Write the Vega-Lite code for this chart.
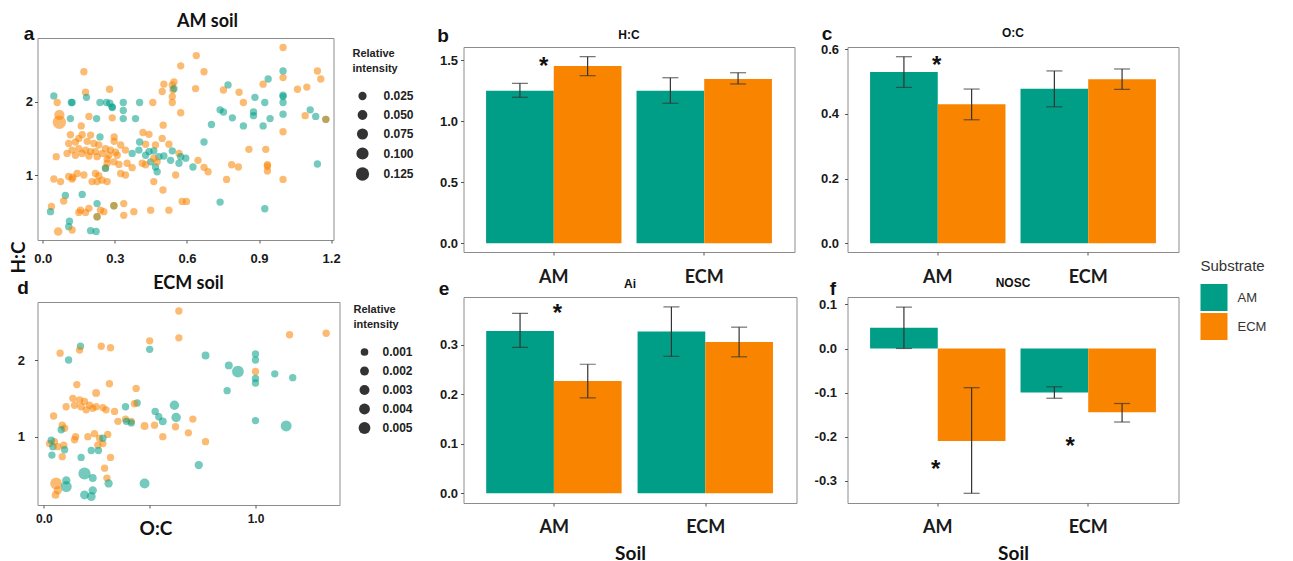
{
"$schema": "https://vega.github.io/schema/vega-lite/v6.json",
"padding": {"left": 8.5, "top": 8, "right": 5, "bottom": 0},
"datasets": {
"scatA": [
{"OC":0.639,"HC":2.63,"Substrate":"ECM","RI":0.012},{"OC":0.671,"HC":2.41,"Substrate":"ECM","RI":0.012},{"OC":1.0,"HC":2.74,"Substrate":"ECM","RI":0.012},{"OC":1.0,"HC":2.42,"Substrate":"AM","RI":0.012},{"OC":1.0,"HC":2.33,"Substrate":"ECM","RI":0.012},{"OC":1.143,"HC":2.42,"Substrate":"ECM","RI":0.012},{"OC":1.157,"HC":2.31,"Substrate":"ECM","RI":0.012},{"OC":0.636,"HC":2.18,"Substrate":"ECM","RI":0.012},{"OC":0.771,"HC":2.23,"Substrate":"AM","RI":0.012},{"OC":0.752,"HC":2.16,"Substrate":"ECM","RI":0.012},{"OC":0.817,"HC":2.13,"Substrate":"ECM","RI":0.012},{"OC":0.835,"HC":1.99,"Substrate":"ECM","RI":0.012},{"OC":0.883,"HC":2.06,"Substrate":"AM","RI":0.012},{"OC":0.938,"HC":2.31,"Substrate":"AM","RI":0.012},{"OC":0.917,"HC":2.24,"Substrate":"ECM","RI":0.012},{"OC":0.924,"HC":1.99,"Substrate":"AM","RI":0.012},{"OC":1.0,"HC":2.09,"Substrate":"AM","RI":0.012},{"OC":1.0,"HC":2.07,"Substrate":"AM","RI":0.012},{"OC":1.0,"HC":1.99,"Substrate":"AM","RI":0.012},{"OC":1.06,"HC":2.17,"Substrate":"ECM","RI":0.012},{"OC":1.099,"HC":2.2,"Substrate":"ECM","RI":0.012},{"OC":0.738,"HC":1.89,"Substrate":"AM","RI":0.012},{"OC":0.752,"HC":1.86,"Substrate":"AM","RI":0.012},{"OC":0.789,"HC":1.78,"Substrate":"AM","RI":0.012},{"OC":0.877,"HC":1.86,"Substrate":"AM","RI":0.012},{"OC":0.877,"HC":1.81,"Substrate":"AM","RI":0.012},{"OC":0.946,"HC":1.77,"Substrate":"AM","RI":0.012},{"OC":0.835,"HC":1.67,"Substrate":"AM","RI":0.012},{"OC":0.917,"HC":1.67,"Substrate":"AM","RI":0.012},{"OC":1.0,"HC":1.83,"Substrate":"AM","RI":0.012},{"OC":1.0,"HC":1.59,"Substrate":"ECM","RI":0.012},{"OC":1.092,"HC":1.81,"Substrate":"ECM","RI":0.012},{"OC":1.113,"HC":1.89,"Substrate":"AM","RI":0.012},{"OC":1.136,"HC":1.8,"Substrate":"AM","RI":0.012},{"OC":1.178,"HC":1.76,"Substrate":"AM","RI":0.012},{"OC":1.178,"HC":1.76,"Substrate":"ECM","RI":0.012},{"OC":0.702,"HC":1.69,"Substrate":"AM","RI":0.012},{"OC":0.671,"HC":1.45,"Substrate":"AM","RI":0.012},{"OC":0.858,"HC":1.35,"Substrate":"ECM","RI":0.012},{"OC":0.928,"HC":1.35,"Substrate":"ECM","RI":0.012},{"OC":0.646,"HC":1.2,"Substrate":"ECM","RI":0.012},{"OC":0.671,"HC":1.105,"Substrate":"ECM","RI":0.012},{"OC":0.688,"HC":1.045,"Substrate":"ECM","RI":0.012},{"OC":0.625,"HC":1.11,"Substrate":"AM","RI":0.012},{"OC":0.786,"HC":1.14,"Substrate":"ECM","RI":0.012},{"OC":0.814,"HC":1.11,"Substrate":"ECM","RI":0.012},{"OC":0.935,"HC":1.14,"Substrate":"ECM","RI":0.012},{"OC":0.935,"HC":1.12,"Substrate":"ECM","RI":0.012},{"OC":0.935,"HC":1.055,"Substrate":"ECM","RI":0.012},{"OC":1.143,"HC":1.15,"Substrate":"AM","RI":0.012},{"OC":0.765,"HC":0.94,"Substrate":"ECM","RI":0.012},{"OC":1.0,"HC":0.94,"Substrate":"ECM","RI":0.012},{"OC":0.738,"HC":0.63,"Substrate":"AM","RI":0.012},{"OC":0.924,"HC":0.54,"Substrate":"AM","RI":0.012},{"OC":0.598,"HC":0.64,"Substrate":"ECM","RI":0.012},{"OC":0.595,"HC":1.23,"Substrate":"AM","RI":0.012},
{"OC":0.171,"HC":2.41,"Substrate":"ECM","RI":0.012},{"OC":0.574,"HC":2.49,"Substrate":"ECM","RI":0.012},{"OC":0.178,"HC":2.13,"Substrate":"ECM","RI":0.012},{"OC":0.278,"HC":2.17,"Substrate":"ECM","RI":0.012},{"OC":0.046,"HC":2.08,"Substrate":"AM","RI":0.012},{"OC":0.06,"HC":1.99,"Substrate":"ECM","RI":0.012},{"OC":0.119,"HC":1.99,"Substrate":"AM","RI":0.012},{"OC":0.122,"HC":1.99,"Substrate":"AM","RI":0.012},{"OC":0.182,"HC":2.06,"Substrate":"AM","RI":0.012},{"OC":0.238,"HC":1.99,"Substrate":"AM","RI":0.012},{"OC":0.265,"HC":1.99,"Substrate":"AM","RI":0.012},{"OC":0.279,"HC":1.98,"Substrate":"AM","RI":0.012},{"OC":0.289,"HC":1.92,"Substrate":"AM","RI":0.012},{"OC":0.289,"HC":1.93,"Substrate":"AM","RI":0.012},{"OC":0.335,"HC":1.99,"Substrate":"AM","RI":0.012},{"OC":0.335,"HC":1.88,"Substrate":"AM","RI":0.012},{"OC":0.335,"HC":1.77,"Substrate":"AM","RI":0.012},{"OC":0.403,"HC":1.99,"Substrate":"AM","RI":0.012},{"OC":0.458,"HC":1.99,"Substrate":"ECM","RI":0.012},{"OC":0.504,"HC":2.24,"Substrate":"ECM","RI":0.012},{"OC":0.539,"HC":2.23,"Substrate":"ECM","RI":0.012},{"OC":0.546,"HC":2.27,"Substrate":"ECM","RI":0.012},{"OC":0.497,"HC":2.14,"Substrate":"ECM","RI":0.012},{"OC":0.542,"HC":2.16,"Substrate":"ECM","RI":0.012},{"OC":0.546,"HC":2.18,"Substrate":"AM","RI":0.012},{"OC":0.539,"HC":2.07,"Substrate":"ECM","RI":0.012},{"OC":0.539,"HC":1.99,"Substrate":"ECM","RI":0.012},{"OC":0.574,"HC":1.85,"Substrate":"ECM","RI":0.012},{"OC":0.069,"HC":1.82,"Substrate":"ECM","RI":0.06},{"OC":0.069,"HC":1.72,"Substrate":"ECM","RI":0.125},{"OC":0.115,"HC":1.77,"Substrate":"AM","RI":0.012},{"OC":0.192,"HC":1.8,"Substrate":"ECM","RI":0.012},{"OC":0.224,"HC":1.77,"Substrate":"AM","RI":0.012},{"OC":0.289,"HC":1.78,"Substrate":"ECM","RI":0.012},{"OC":0.386,"HC":1.77,"Substrate":"AM","RI":0.012},{"OC":0.16,"HC":1.67,"Substrate":"ECM","RI":0.012},{"OC":0.501,"HC":1.68,"Substrate":"ECM","RI":0.012},{"OC":0.297,"HC":1.52,"Substrate":"ECM","RI":0.012},{"OC":0.297,"HC":1.46,"Substrate":"ECM","RI":0.012},{"OC":0.238,"HC":1.52,"Substrate":"AM","RI":0.012},{"OC":0.417,"HC":1.58,"Substrate":"ECM","RI":0.012},{"OC":0.442,"HC":1.555,"Substrate":"ECM","RI":0.012},{"OC":0.497,"HC":1.5,"Substrate":"ECM","RI":0.012},{"OC":0.469,"HC":1.41,"Substrate":"ECM","RI":0.012},{"OC":0.428,"HC":1.42,"Substrate":"ECM","RI":0.012},{"OC":0.403,"HC":1.45,"Substrate":"AM","RI":0.012},
{"OC":0.108,"HC":1.43,"Substrate":"ECM","RI":0.012},{"OC":0.136,"HC":1.45,"Substrate":"ECM","RI":0.012},{"OC":0.164,"HC":1.55,"Substrate":"ECM","RI":0.012},{"OC":0.185,"HC":1.46,"Substrate":"ECM","RI":0.012},{"OC":0.2125,"HC":1.43,"Substrate":"ECM","RI":0.012},{"OC":0.233,"HC":1.41,"Substrate":"ECM","RI":0.012},{"OC":0.261,"HC":1.36,"Substrate":"ECM","RI":0.012},{"OC":0.282,"HC":1.34,"Substrate":"ECM","RI":0.012},{"OC":0.303,"HC":1.31,"Substrate":"ECM","RI":0.012},{"OC":0.122,"HC":1.34,"Substrate":"ECM","RI":0.012},{"OC":0.15,"HC":1.36,"Substrate":"ECM","RI":0.012},{"OC":0.178,"HC":1.34,"Substrate":"ECM","RI":0.012},{"OC":0.199,"HC":1.32,"Substrate":"ECM","RI":0.012},{"OC":0.219,"HC":1.32,"Substrate":"ECM","RI":0.012},{"OC":0.247,"HC":1.295,"Substrate":"ECM","RI":0.012},{"OC":0.275,"HC":1.27,"Substrate":"ECM","RI":0.012},{"OC":0.101,"HC":1.295,"Substrate":"ECM","RI":0.012},{"OC":0.136,"HC":1.27,"Substrate":"ECM","RI":0.012},{"OC":0.164,"HC":1.295,"Substrate":"ECM","RI":0.012},{"OC":0.192,"HC":1.26,"Substrate":"ECM","RI":0.012},{"OC":0.226,"HC":1.25,"Substrate":"ECM","RI":0.012},{"OC":0.268,"HC":1.22,"Substrate":"ECM","RI":0.012},{"OC":0.296,"HC":1.18,"Substrate":"ECM","RI":0.012},{"OC":0.115,"HC":1.55,"Substrate":"ECM","RI":0.012},{"OC":0.15,"HC":1.5,"Substrate":"ECM","RI":0.012},{"OC":0.199,"HC":1.545,"Substrate":"ECM","RI":0.012},{"OC":0.056,"HC":1.25,"Substrate":"ECM","RI":0.012},{"OC":0.31,"HC":1.27,"Substrate":"ECM","RI":0.012},{"OC":0.344,"HC":1.34,"Substrate":"ECM","RI":0.012},{"OC":0.324,"HC":1.41,"Substrate":"ECM","RI":0.012},
{"OC":0.268,"HC":1.16,"Substrate":"ECM","RI":0.012},{"OC":0.261,"HC":1.1,"Substrate":"ECM","RI":0.012},{"OC":0.317,"HC":1.145,"Substrate":"ECM","RI":0.012},{"OC":0.351,"HC":1.16,"Substrate":"ECM","RI":0.012},{"OC":0.372,"HC":1.1,"Substrate":"ECM","RI":0.012},{"OC":0.324,"HC":1.02,"Substrate":"ECM","RI":0.012},{"OC":0.344,"HC":1.0,"Substrate":"ECM","RI":0.012},{"OC":0.261,"HC":1.09,"Substrate":"AM","RI":0.012},{"OC":0.046,"HC":0.945,"Substrate":"ECM","RI":0.012},{"OC":0.074,"HC":0.91,"Substrate":"ECM","RI":0.012},{"OC":0.108,"HC":0.98,"Substrate":"ECM","RI":0.012},{"OC":0.143,"HC":1.02,"Substrate":"ECM","RI":0.012},{"OC":0.171,"HC":1.0,"Substrate":"ECM","RI":0.012},{"OC":0.122,"HC":0.945,"Substrate":"ECM","RI":0.012},{"OC":0.125,"HC":0.97,"Substrate":"ECM","RI":0.012},{"OC":0.219,"HC":1.02,"Substrate":"ECM","RI":0.012},{"OC":0.233,"HC":0.99,"Substrate":"ECM","RI":0.012},{"OC":0.247,"HC":0.93,"Substrate":"ECM","RI":0.012},{"OC":0.268,"HC":0.91,"Substrate":"ECM","RI":0.012},{"OC":0.205,"HC":0.91,"Substrate":"ECM","RI":0.012},{"OC":0.226,"HC":0.91,"Substrate":"ECM","RI":0.012},{"OC":0.094,"HC":0.72,"Substrate":"AM","RI":0.012},{"OC":0.087,"HC":0.645,"Substrate":"ECM","RI":0.012},{"OC":0.164,"HC":0.735,"Substrate":"AM","RI":0.012},{"OC":0.036,"HC":0.57,"Substrate":"ECM","RI":0.012},{"OC":0.032,"HC":0.5,"Substrate":"AM","RI":0.012},{"OC":0.157,"HC":0.52,"Substrate":"ECM","RI":0.012},{"OC":0.192,"HC":0.545,"Substrate":"ECM","RI":0.012},{"OC":0.178,"HC":0.49,"Substrate":"ECM","RI":0.012},{"OC":0.226,"HC":0.61,"Substrate":"AM","RI":0.012},{"OC":0.254,"HC":0.5,"Substrate":"ECM","RI":0.012},{"OC":0.24,"HC":0.52,"Substrate":"ECM","RI":0.012},{"OC":0.226,"HC":0.43,"Substrate":"AM","RI":0.012},{"OC":0.226,"HC":0.43,"Substrate":"ECM","RI":0.012},{"OC":0.296,"HC":0.58,"Substrate":"AM","RI":0.012},{"OC":0.296,"HC":0.58,"Substrate":"ECM","RI":0.012},{"OC":0.337,"HC":0.61,"Substrate":"ECM","RI":0.012},{"OC":0.337,"HC":0.45,"Substrate":"ECM","RI":0.012},{"OC":0.379,"HC":0.5,"Substrate":"ECM","RI":0.012},{"OC":0.449,"HC":0.52,"Substrate":"ECM","RI":0.012},{"OC":0.525,"HC":0.52,"Substrate":"ECM","RI":0.012},{"OC":0.15,"HC":0.49,"Substrate":"ECM","RI":0.012},{"OC":0.111,"HC":0.37,"Substrate":"AM","RI":0.012},{"OC":0.108,"HC":0.295,"Substrate":"AM","RI":0.012},{"OC":0.122,"HC":0.25,"Substrate":"ECM","RI":0.012},{"OC":0.064,"HC":0.23,"Substrate":"ECM","RI":0.03},{"OC":0.199,"HC":0.24,"Substrate":"AM","RI":0.012},{"OC":0.222,"HC":0.23,"Substrate":"AM","RI":0.012},
{"OC":0.372,"HC":1.295,"Substrate":"AM","RI":0.012},{"OC":0.4,"HC":1.34,"Substrate":"AM","RI":0.012},{"OC":0.428,"HC":1.27,"Substrate":"AM","RI":0.012},{"OC":0.442,"HC":1.32,"Substrate":"AM","RI":0.012},{"OC":0.462,"HC":1.33,"Substrate":"AM","RI":0.012},{"OC":0.483,"HC":1.25,"Substrate":"AM","RI":0.012},{"OC":0.504,"HC":1.26,"Substrate":"AM","RI":0.012},{"OC":0.539,"HC":1.33,"Substrate":"AM","RI":0.012},{"OC":0.449,"HC":1.18,"Substrate":"AM","RI":0.012},{"OC":0.469,"HC":1.11,"Substrate":"AM","RI":0.012},{"OC":0.476,"HC":1.045,"Substrate":"AM","RI":0.012},{"OC":0.567,"HC":1.16,"Substrate":"AM","RI":0.012},{"OC":0.414,"HC":1.16,"Substrate":"ECM","RI":0.012},{"OC":0.428,"HC":1.14,"Substrate":"ECM","RI":0.012},{"OC":0.462,"HC":1.23,"Substrate":"ECM","RI":0.012},{"OC":0.476,"HC":1.18,"Substrate":"ECM","RI":0.012},{"OC":0.553,"HC":1.0,"Substrate":"ECM","RI":0.012},{"OC":0.462,"HC":0.91,"Substrate":"ECM","RI":0.012},{"OC":0.5,"HC":0.795,"Substrate":"ECM","RI":0.012},{"OC":0.58,"HC":0.64,"Substrate":"ECM","RI":0.012},{"OC":0.567,"HC":1.295,"Substrate":"ECM","RI":0.012},{"OC":0.574,"HC":1.25,"Substrate":"AM","RI":0.012},{"OC":0.532,"HC":1.2,"Substrate":"AM","RI":0.012},{"OC":0.525,"HC":1.42,"Substrate":"ECM","RI":0.012}
],
"scatD": [
{"OC":0.638,"HC":2.64,"Substrate":"ECM","RI":0.00075},{"OC":1.334,"HC":2.35,"Substrate":"ECM","RI":0.00075},{"OC":1.161,"HC":2.33,"Substrate":"ECM","RI":0.00075},{"OC":0.638,"HC":2.29,"Substrate":"ECM","RI":0.00075},{"OC":0.5,"HC":2.25,"Substrate":"ECM","RI":0.00075},{"OC":0.077,"HC":2.09,"Substrate":"ECM","RI":0.00075},{"OC":0.173,"HC":2.18,"Substrate":"AM","RI":0.00075},{"OC":0.169,"HC":2.13,"Substrate":"ECM","RI":0.00075},{"OC":0.117,"HC":2.0,"Substrate":"AM","RI":0.00075},{"OC":0.271,"HC":2.18,"Substrate":"ECM","RI":0.00075},{"OC":0.315,"HC":2.16,"Substrate":"ECM","RI":0.00075},{"OC":0.5,"HC":2.14,"Substrate":"AM","RI":0.00075},{"OC":0.764,"HC":2.06,"Substrate":"AM","RI":0.0012},{"OC":1.0,"HC":2.08,"Substrate":"AM","RI":0.00075},{"OC":1.0,"HC":2.0,"Substrate":"AM","RI":0.00075},{"OC":1.0,"HC":1.85,"Substrate":"ECM","RI":0.00075},{"OC":1.0,"HC":1.76,"Substrate":"AM","RI":0.00075},{"OC":1.0,"HC":1.7,"Substrate":"AM","RI":0.00075},{"OC":0.874,"HC":1.93,"Substrate":"AM","RI":0.0012},{"OC":0.917,"HC":1.85,"Substrate":"AM","RI":0.005},{"OC":1.091,"HC":1.82,"Substrate":"AM","RI":0.00075},{"OC":1.176,"HC":1.77,"Substrate":"AM","RI":0.00075},{"OC":0.866,"HC":1.6,"Substrate":"AM","RI":0.00075},{"OC":1.0,"HC":1.21,"Substrate":"AM","RI":0.00075},{"OC":1.145,"HC":1.14,"Substrate":"AM","RI":0.004},{"OC":0.156,"HC":1.68,"Substrate":"ECM","RI":0.00075},{"OC":0.31,"HC":1.69,"Substrate":"ECM","RI":0.00075},{"OC":0.436,"HC":1.63,"Substrate":"ECM","RI":0.00075},{"OC":0.247,"HC":1.57,"Substrate":"ECM","RI":0.0012},
{"OC":0.137,"HC":1.5,"Substrate":"ECM","RI":0.00075},{"OC":0.169,"HC":1.48,"Substrate":"ECM","RI":0.00075},{"OC":0.192,"HC":1.46,"Substrate":"ECM","RI":0.00075},{"OC":0.216,"HC":1.41,"Substrate":"ECM","RI":0.00075},{"OC":0.247,"HC":1.39,"Substrate":"ECM","RI":0.00075},{"OC":0.279,"HC":1.38,"Substrate":"ECM","RI":0.00075},{"OC":0.145,"HC":1.41,"Substrate":"ECM","RI":0.00075},{"OC":0.176,"HC":1.39,"Substrate":"ECM","RI":0.00075},{"OC":0.2,"HC":1.35,"Substrate":"ECM","RI":0.00075},{"OC":0.231,"HC":1.37,"Substrate":"ECM","RI":0.00075},{"OC":0.105,"HC":1.39,"Substrate":"ECM","RI":0.00075},{"OC":0.294,"HC":1.35,"Substrate":"ECM","RI":0.00075},
{"OC":0.046,"HC":1.27,"Substrate":"ECM","RI":0.00075},{"OC":0.334,"HC":1.33,"Substrate":"ECM","RI":0.00075},{"OC":0.386,"HC":1.39,"Substrate":"AM","RI":0.00075},{"OC":0.441,"HC":1.44,"Substrate":"AM","RI":0.00075},{"OC":0.428,"HC":1.43,"Substrate":"ECM","RI":0.00075},{"OC":0.386,"HC":1.23,"Substrate":"ECM","RI":0.00075},{"OC":0.413,"HC":1.2,"Substrate":"ECM","RI":0.00075},{"OC":0.413,"HC":1.18,"Substrate":"AM","RI":0.00075},{"OC":0.39,"HC":1.2,"Substrate":"AM","RI":0.00075},{"OC":0.35,"HC":1.2,"Substrate":"ECM","RI":0.00075},{"OC":0.476,"HC":1.14,"Substrate":"ECM","RI":0.0012},{"OC":0.526,"HC":1.33,"Substrate":"AM","RI":0.00075},{"OC":0.543,"HC":1.26,"Substrate":"AM","RI":0.00075},{"OC":0.562,"HC":1.2,"Substrate":"AM","RI":0.0012},{"OC":0.523,"HC":1.15,"Substrate":"ECM","RI":0.00075},{"OC":0.617,"HC":1.41,"Substrate":"AM","RI":0.0025},{"OC":0.625,"HC":1.25,"Substrate":"AM","RI":0.0025},{"OC":0.622,"HC":1.13,"Substrate":"ECM","RI":0.00075},{"OC":0.704,"HC":1.23,"Substrate":"ECM","RI":0.00075},{"OC":0.683,"HC":1.05,"Substrate":"ECM","RI":0.00075},{"OC":0.764,"HC":0.935,"Substrate":"ECM","RI":0.00075},{"OC":0.562,"HC":1.0,"Substrate":"ECM","RI":0.00075},{"OC":0.732,"HC":0.63,"Substrate":"AM","RI":0.0015},{"OC":0.087,"HC":1.15,"Substrate":"ECM","RI":0.00075},{"OC":0.098,"HC":1.11,"Substrate":"ECM","RI":0.00075},{"OC":0.082,"HC":1.09,"Substrate":"AM","RI":0.00075},{"OC":0.05,"HC":0.935,"Substrate":"ECM","RI":0.00075},{"OC":0.027,"HC":0.91,"Substrate":"ECM","RI":0.00075},{"OC":0.035,"HC":0.955,"Substrate":"AM","RI":0.00075},{"OC":0.043,"HC":0.87,"Substrate":"AM","RI":0.00075},{"OC":0.066,"HC":0.87,"Substrate":"ECM","RI":0.00075},{"OC":0.094,"HC":0.89,"Substrate":"ECM","RI":0.00075},{"OC":0.15,"HC":1.0,"Substrate":"ECM","RI":0.00075},{"OC":0.145,"HC":0.96,"Substrate":"ECM","RI":0.00075},{"OC":0.208,"HC":1.0,"Substrate":"ECM","RI":0.00075},{"OC":0.239,"HC":1.04,"Substrate":"ECM","RI":0.00075},{"OC":0.263,"HC":0.98,"Substrate":"ECM","RI":0.00075},{"OC":0.279,"HC":0.91,"Substrate":"ECM","RI":0.00075},{"OC":0.302,"HC":1.03,"Substrate":"ECM","RI":0.00075},{"OC":0.255,"HC":0.89,"Substrate":"ECM","RI":0.00075},{"OC":0.279,"HC":0.98,"Substrate":"AM","RI":0.00075},{"OC":0.098,"HC":0.83,"Substrate":"AM","RI":0.00075},{"OC":0.087,"HC":0.74,"Substrate":"ECM","RI":0.00075},{"OC":0.038,"HC":0.76,"Substrate":"AM","RI":0.00075},{"OC":0.176,"HC":0.73,"Substrate":"AM","RI":0.00075},{"OC":0.224,"HC":0.82,"Substrate":"AM","RI":0.00075},{"OC":0.258,"HC":0.82,"Substrate":"AM","RI":0.00075},{"OC":0.315,"HC":0.73,"Substrate":"ECM","RI":0.00075},{"OC":0.287,"HC":0.59,"Substrate":"ECM","RI":0.00075},{"OC":0.298,"HC":0.46,"Substrate":"ECM","RI":0.00075},{"OC":0.306,"HC":0.39,"Substrate":"AM","RI":0.0015},{"OC":0.192,"HC":0.52,"Substrate":"AM","RI":0.0055},{"OC":0.231,"HC":0.46,"Substrate":"AM","RI":0.0012},{"OC":0.476,"HC":0.39,"Substrate":"AM","RI":0.003},{"OC":0.058,"HC":0.39,"Substrate":"ECM","RI":0.005},{"OC":0.066,"HC":0.3,"Substrate":"ECM","RI":0.0015},{"OC":0.106,"HC":0.35,"Substrate":"AM","RI":0.004},{"OC":0.055,"HC":0.24,"Substrate":"ECM","RI":0.001},{"OC":0.192,"HC":0.24,"Substrate":"AM","RI":0.002},{"OC":0.224,"HC":0.22,"Substrate":"AM","RI":0.002},{"OC":0.231,"HC":0.3,"Substrate":"AM","RI":0.0015},{"OC":0.106,"HC":0.43,"Substrate":"AM","RI":0.0015}
],
"bars": [
{"panel":"HC","Soil":"AM","Substrate":"AM","mean":1.251,"lo":1.197,"hi":1.311},
{"panel":"HC","Soil":"AM","Substrate":"ECM","mean":1.453,"lo":1.374,"hi":1.53},
{"panel":"HC","Soil":"ECM","Substrate":"AM","mean":1.251,"lo":1.148,"hi":1.357},
{"panel":"HC","Soil":"ECM","Substrate":"ECM","mean":1.347,"lo":1.306,"hi":1.398},
{"panel":"OC","Soil":"AM","Substrate":"AM","mean":0.53,"lo":0.482,"hi":0.577},
{"panel":"OC","Soil":"AM","Substrate":"ECM","mean":0.43,"lo":0.382,"hi":0.477},
{"panel":"OC","Soil":"ECM","Substrate":"AM","mean":0.478,"lo":0.422,"hi":0.533},
{"panel":"OC","Soil":"ECM","Substrate":"ECM","mean":0.507,"lo":0.476,"hi":0.539},
{"panel":"Ai","Soil":"AM","Substrate":"AM","mean":0.328,"lo":0.295,"hi":0.364},
{"panel":"Ai","Soil":"AM","Substrate":"ECM","mean":0.227,"lo":0.193,"hi":0.261},
{"panel":"Ai","Soil":"ECM","Substrate":"AM","mean":0.327,"lo":0.277,"hi":0.377},
{"panel":"Ai","Soil":"ECM","Substrate":"ECM","mean":0.306,"lo":0.276,"hi":0.336},
{"panel":"NOSC","Soil":"AM","Substrate":"AM","mean":0.047,"lo":0.0,"hi":0.094},
{"panel":"NOSC","Soil":"AM","Substrate":"ECM","mean":-0.21,"lo":-0.329,"hi":-0.089},
{"panel":"NOSC","Soil":"ECM","Substrate":"AM","mean":-0.1,"lo":-0.113,"hi":-0.087},
{"panel":"NOSC","Soil":"ECM","Substrate":"ECM","mean":-0.145,"lo":-0.167,"hi":-0.125}
],
"stars": [
{"panel":"HC","Soil":"AM","y":1.489},
{"panel":"OC","Soil":"AM","y":0.5635},
{"panel":"Ai","Soil":"AM","y":0.3725},
{"panel":"NOSC","Soil":"AM","y":-0.265},
{"panel":"NOSC","Soil":"ECM","y":-0.2125}
]
},
"spacing": 16,
"resolve": {"scale": {"size": "independent"}, "legend": {"size": "independent"}},
"hconcat": [
{
"vconcat": [
{"width": 382, "height": 30, "data": {"values": [{"k": 1}]}, "mark": {"type": "point", "opacity": 0}, "encoding": {}, "view": {"stroke": null}},
{
"width": 296, "height": 202,
"title": {"text": "AM soil", "fontSize": 18, "font": "Lato", "dx": 22, "offset": -7},
"data": {"name": "scatA"},
"mark": {"type": "circle", "opacity": 0.55},
"encoding": {
"x": {"field": "OC", "type": "quantitative", "scale": {"domain": [-0.022, 1.21], "nice": false, "zero": false},
"axis": {"values": [0, 0.3, 0.6, 0.9, 1.2], "format": ".1f", "labelFontSize": 13, "labelPadding": 9, "title": "a", "titleFontSize": 19, "titleX": -9, "titleY": -207, "titleAngle": 0, "titleAlign": "center", "titleBaseline": "middle"}},
"y": {"field": "HC", "type": "quantitative", "scale": {"domain": [0.113, 2.87], "nice": false, "zero": false},
"axis": {"values": [1, 2], "format": "d", "labelFontSize": 13, "labelPadding": 2, "title": "H:C", "titleFont": "Lato", "titleFontSize": 19, "titleX": -19, "titleY": 219, "titleAngle": -90, "titleAlign": "center", "titleBaseline": "middle"}},
"color": {"field": "Substrate", "type": "nominal", "scale": {"domain": ["AM", "ECM"], "range": ["#009E86", "#F98400"]},
"legend": {"orient": "none", "legendX": 1163, "legendY": 251, "title": "Substrate", "titleFontSize": 15, "titleFontWeight": "normal", "titleColor": "#333", "symbolType": "square", "symbolSize": 729, "symbolStrokeWidth": 0, "symbolOpacity": 1, "labelFontSize": 13, "labelColor": "#333", "labelOffset": 10, "rowPadding": 2, "titlePadding": 10}},
"size": {"field": "RI", "type": "quantitative", "scale": {"domain": [0, 0.13], "range": [41, 182]},
"legend": {"orient": "none", "legendX": 315, "legendY": 10, "title": ["Relative", "intensity"], "titleFontSize": 11, "titleFontWeight": "bold", "titleColor": "#222", "titleLineHeight": 15, "titlePadding": 16, "values": [0.025, 0.05, 0.075, 0.1, 0.125], "format": ".3f", "labelFontSize": 12, "labelFontWeight": "bold", "labelColor": "#222", "labelOffset": 14, "rowPadding": 7, "symbolOffset": 3, "symbolFillColor": "#333", "symbolOpacity": 1, "symbolStrokeWidth": 0}}
}
},
{"width": 1, "height": 62, "data": {"values": [{"k": 1}]}, "mark": {"type": "point", "opacity": 0}, "encoding": {}, "view": {"stroke": null}},
{
"width": 302, "height": 203,
"title": {"text": "ECM soil", "fontSize": 18, "font": "Lato", "offset": -15},
"data": {"name": "scatD"},
"mark": {"type": "circle", "opacity": 0.55},
"encoding": {
"x": {"field": "OC", "type": "quantitative", "scale": {"domain": [-0.03, 1.397], "nice": false, "zero": false},
"axis": {"values": [0, 0.5, 1], "labelExpr": "datum.value == 0.5 ? '' : format(datum.value, '.1f')", "labelFontSize": 12, "labelPadding": 5, "title": "O:C", "titleFont": "Lato", "titleFontSize": 19, "titleX": 118, "titleY": 23, "titleAngle": 0, "titleAlign": "center", "titleBaseline": "middle"}},
"y": {"field": "HC", "type": "quantitative", "scale": {"domain": [0.109, 2.757], "nice": false, "zero": false},
"axis": {"values": [1, 2], "format": "d", "labelFontSize": 13, "labelPadding": 10, "title": "d", "titleFontSize": 19, "titleX": -15, "titleY": -15, "titleAngle": 0, "titleAlign": "center", "titleBaseline": "middle"}},
"color": {"field": "Substrate", "type": "nominal", "scale": {"domain": ["AM", "ECM"], "range": ["#009E86", "#F98400"]},
"legend": {"orient": "none", "legendX": 1163, "legendY": 251, "title": "Substrate", "titleFontSize": 15, "titleFontWeight": "normal", "titleColor": "#333", "symbolType": "square", "symbolSize": 729, "symbolStrokeWidth": 0, "symbolOpacity": 1, "labelFontSize": 13, "labelColor": "#333", "labelOffset": 10, "rowPadding": 2, "titlePadding": 10}},
"size": {"field": "RI", "type": "quantitative", "scale": {"domain": [0, 0.0055], "range": [39, 149]},
"legend": {"orient": "none", "legendX": 316, "legendY": 2, "title": ["Relative", "intensity"], "titleFontSize": 11, "titleFontWeight": "bold", "titleColor": "#222", "titleLineHeight": 15, "titlePadding": 16, "values": [0.001, 0.002, 0.003, 0.004, 0.005], "format": ".3f", "labelFontSize": 12, "labelFontWeight": "bold", "labelColor": "#222", "labelOffset": 12, "rowPadding": 7, "symbolOffset": 5, "symbolFillColor": "#333", "symbolOpacity": 1, "symbolStrokeWidth": 0}}
}
}
],
"spacing": 0, "bounds": "flush",
"resolve": {"scale": {"size": "independent"}, "legend": {"size": "independent"}}
},
{
"vconcat": [
{"width": 1, "height": 39, "data": {"values": [{"k": 1}]}, "mark": {"type": "point", "opacity": 0}, "encoding": {}, "view": {"stroke": null}},
{
"width": 331, "height": 205,
"title": {"text": "H:C", "fontSize": 12, "offset": -16},
"data": {"name": "bars"},
"transform": [{"filter": "datum.panel == 'HC'"}],
"encoding": {"x": {"field": "Soil", "type": "nominal", "scale": {"paddingInner": 0.1, "paddingOuter": 0.15}, "axis": {"labelAngle": 0, "labelFont": "Lato", "labelFontSize": 18, "labelPadding": 13, "title": null}}},
"layer": [
{"mark": {"type": "bar"}, "encoding": {
"xOffset": {"field": "Substrate", "type": "nominal", "scale": {"paddingInner": 0, "paddingOuter": 0}},
"y": {"field": "mean", "type": "quantitative", "scale": {"domain": [-0.0713, 1.609], "nice": false, "zero": false},
"axis": {"values": [0, 0.5, 1, 1.5], "format": ".1f", "labelFontSize": 13, "labelPadding": 3, "title": "b", "titleFontSize": 19, "titleX": -21, "titleY": -12, "titleAngle": 0, "titleAlign": "center", "titleBaseline": "middle"}},
"y2": {"datum": 0},
"color": {"field": "Substrate", "type": "nominal", "scale": {"domain": ["AM", "ECM"], "range": ["#009E86", "#F98400"]},
"legend": {"orient": "none", "legendX": 1163, "legendY": 251, "title": "Substrate", "titleFontSize": 15, "titleFontWeight": "normal", "titleColor": "#333", "symbolType": "square", "symbolSize": 729, "symbolStrokeWidth": 0, "symbolOpacity": 1, "labelFontSize": 13, "labelColor": "#333", "labelOffset": 10, "rowPadding": 2, "titlePadding": 10}}}},
{"mark": {"type": "rule", "color": "#333", "strokeWidth": 1.2}, "encoding": {"xOffset": {"field": "Substrate", "type": "nominal", "scale": {"paddingInner": 0, "paddingOuter": 0}}, "y": {"field": "lo", "type": "quantitative"}, "y2": {"field": "hi"}}},
{"mark": {"type": "tick", "color": "#333", "thickness": 1.2, "size": 16}, "encoding": {"xOffset": {"field": "Substrate", "type": "nominal", "scale": {"paddingInner": 0, "paddingOuter": 0}}, "y": {"field": "lo", "type": "quantitative"}}},
{"mark": {"type": "tick", "color": "#333", "thickness": 1.2, "size": 16}, "encoding": {"xOffset": {"field": "Substrate", "type": "nominal", "scale": {"paddingInner": 0, "paddingOuter": 0}}, "y": {"field": "hi", "type": "quantitative"}}},
{"data": {"name": "stars"}, "transform": [{"filter": "datum.panel == 'HC'"}], "mark": {"type": "text", "text": "*", "fontSize": 24, "fontWeight": "bold", "color": "#111", "dx": -10, "dy": 5, "baseline": "middle"}, "encoding": {"y": {"field": "y", "type": "quantitative"}}}
]
},
{"width": 1, "height": 45, "data": {"values": [{"k": 1}]}, "mark": {"type": "point", "opacity": 0}, "encoding": {}, "view": {"stroke": null}},
{
"width": 333, "height": 206,
"title": {"text": "Ai", "fontSize": 12, "offset": -12},
"data": {"name": "bars"},
"transform": [{"filter": "datum.panel == 'Ai'"}],
"encoding": {"x": {"field": "Soil", "type": "nominal", "scale": {"paddingInner": 0.1, "paddingOuter": 0.15}, "axis": {"labelAngle": 0, "labelFont": "Lato", "labelFontSize": 18, "labelPadding": 12, "title": "Soil", "titleFont": "Lato", "titleFontSize": 19, "titleY": 50, "titleBaseline": "middle"}}},
"layer": [
{"mark": {"type": "bar"}, "encoding": {
"xOffset": {"field": "Substrate", "type": "nominal", "scale": {"paddingInner": 0, "paddingOuter": 0}},
"y": {"field": "mean", "type": "quantitative", "scale": {"domain": [-0.0196, 0.397], "nice": false, "zero": false},
"axis": {"values": [0, 0.1, 0.2, 0.3], "format": ".1f", "labelFontSize": 13, "labelPadding": 3, "title": "e", "titleFontSize": 19, "titleX": -20, "titleY": -9, "titleAngle": 0, "titleAlign": "center", "titleBaseline": "middle"}},
"y2": {"datum": 0},
"color": {"field": "Substrate", "type": "nominal", "scale": {"domain": ["AM", "ECM"], "range": ["#009E86", "#F98400"]},
"legend": {"orient": "none", "legendX": 1163, "legendY": 251, "title": "Substrate", "titleFontSize": 15, "titleFontWeight": "normal", "titleColor": "#333", "symbolType": "square", "symbolSize": 729, "symbolStrokeWidth": 0, "symbolOpacity": 1, "labelFontSize": 13, "labelColor": "#333", "labelOffset": 10, "rowPadding": 2, "titlePadding": 10}}}},
{"mark": {"type": "rule", "color": "#333", "strokeWidth": 1.2}, "encoding": {"xOffset": {"field": "Substrate", "type": "nominal", "scale": {"paddingInner": 0, "paddingOuter": 0}}, "y": {"field": "lo", "type": "quantitative"}, "y2": {"field": "hi"}}},
{"mark": {"type": "tick", "color": "#333", "thickness": 1.2, "size": 16}, "encoding": {"xOffset": {"field": "Substrate", "type": "nominal", "scale": {"paddingInner": 0, "paddingOuter": 0}}, "y": {"field": "lo", "type": "quantitative"}}},
{"mark": {"type": "tick", "color": "#333", "thickness": 1.2, "size": 16}, "encoding": {"xOffset": {"field": "Substrate", "type": "nominal", "scale": {"paddingInner": 0, "paddingOuter": 0}}, "y": {"field": "hi", "type": "quantitative"}}},
{"data": {"name": "stars"}, "transform": [{"filter": "datum.panel == 'Ai'"}], "mark": {"type": "text", "text": "*", "fontSize": 24, "fontWeight": "bold", "color": "#111", "dx": 3, "dy": 5, "baseline": "middle"}, "encoding": {"y": {"field": "y", "type": "quantitative"}}}
]
}
],
"spacing": 0, "bounds": "flush"
},
{
"vconcat": [
{"width": 1, "height": 39, "data": {"values": [{"k": 1}]}, "mark": {"type": "point", "opacity": 0}, "encoding": {}, "view": {"stroke": null}},
{
"width": 331, "height": 205,
"title": {"text": "O:C", "fontSize": 12, "offset": -16},
"data": {"name": "bars"},
"transform": [{"filter": "datum.panel == 'OC'"}],
"encoding": {"x": {"field": "Soil", "type": "nominal", "scale": {"paddingInner": 0.1, "paddingOuter": 0.15}, "axis": {"labelAngle": 0, "labelFont": "Lato", "labelFontSize": 18, "labelPadding": 13, "title": null}}},
"layer": [
{"mark": {"type": "bar"}, "encoding": {
"xOffset": {"field": "Substrate", "type": "nominal", "scale": {"paddingInner": 0, "paddingOuter": 0}},
"y": {"field": "mean", "type": "quantitative", "scale": {"domain": [-0.0269, 0.607], "nice": false, "zero": false},
"axis": {"values": [0, 0.2, 0.4, 0.6], "format": ".1f", "labelFontSize": 13, "labelPadding": 6, "title": "c", "titleFontSize": 19, "titleX": -21, "titleY": -14, "titleAngle": 0, "titleAlign": "center", "titleBaseline": "middle"}},
"y2": {"datum": 0},
"color": {"field": "Substrate", "type": "nominal", "scale": {"domain": ["AM", "ECM"], "range": ["#009E86", "#F98400"]},
"legend": {"orient": "none", "legendX": 1163, "legendY": 251, "title": "Substrate", "titleFontSize": 15, "titleFontWeight": "normal", "titleColor": "#333", "symbolType": "square", "symbolSize": 729, "symbolStrokeWidth": 0, "symbolOpacity": 1, "labelFontSize": 13, "labelColor": "#333", "labelOffset": 10, "rowPadding": 2, "titlePadding": 10}}}},
{"mark": {"type": "rule", "color": "#333", "strokeWidth": 1.2}, "encoding": {"xOffset": {"field": "Substrate", "type": "nominal", "scale": {"paddingInner": 0, "paddingOuter": 0}}, "y": {"field": "lo", "type": "quantitative"}, "y2": {"field": "hi"}}},
{"mark": {"type": "tick", "color": "#333", "thickness": 1.2, "size": 16}, "encoding": {"xOffset": {"field": "Substrate", "type": "nominal", "scale": {"paddingInner": 0, "paddingOuter": 0}}, "y": {"field": "lo", "type": "quantitative"}}},
{"mark": {"type": "tick", "color": "#333", "thickness": 1.2, "size": 16}, "encoding": {"xOffset": {"field": "Substrate", "type": "nominal", "scale": {"paddingInner": 0, "paddingOuter": 0}}, "y": {"field": "hi", "type": "quantitative"}}},
{"data": {"name": "stars"}, "transform": [{"filter": "datum.panel == 'OC'"}], "mark": {"type": "text", "text": "*", "fontSize": 24, "fontWeight": "bold", "color": "#111", "dx": -1, "dy": 5, "baseline": "middle"}, "encoding": {"y": {"field": "y", "type": "quantitative"}}}
]
},
{"width": 1, "height": 45, "data": {"values": [{"k": 1}]}, "mark": {"type": "point", "opacity": 0}, "encoding": {}, "view": {"stroke": null}},
{
"width": 331, "height": 206,
"title": {"text": "NOSC", "fontSize": 12, "offset": -11},
"data": {"name": "bars"},
"transform": [{"filter": "datum.panel == 'NOSC'"}],
"encoding": {"x": {"field": "Soil", "type": "nominal", "scale": {"paddingInner": 0.1, "paddingOuter": 0.15}, "axis": {"labelAngle": 0, "labelFont": "Lato", "labelFontSize": 18, "labelPadding": 12, "title": "Soil", "titleFont": "Lato", "titleFontSize": 19, "titleY": 50, "titleBaseline": "middle"}}},
"layer": [
{"mark": {"type": "bar"}, "encoding": {
"xOffset": {"field": "Substrate", "type": "nominal", "scale": {"paddingInner": 0, "paddingOuter": 0}},
"y": {"field": "mean", "type": "quantitative", "scale": {"domain": [-0.351, 0.117], "nice": false, "zero": false},
"axis": {"values": [-0.3, -0.2, -0.1, 0, 0.1], "labelExpr": "replace(format(datum.value, '.1f'), '\u2212', '-')", "labelFontSize": 13, "labelPadding": 8, "title": "f", "titleFontSize": 19, "titleX": -15, "titleY": -9, "titleAngle": 0, "titleAlign": "center", "titleBaseline": "middle"}},
"y2": {"datum": 0},
"color": {"field": "Substrate", "type": "nominal", "scale": {"domain": ["AM", "ECM"], "range": ["#009E86", "#F98400"]},
"legend": {"orient": "none", "legendX": 1163, "legendY": 251, "title": "Substrate", "titleFontSize": 15, "titleFontWeight": "normal", "titleColor": "#333", "symbolType": "square", "symbolSize": 729, "symbolStrokeWidth": 0, "symbolOpacity": 1, "labelFontSize": 13, "labelColor": "#333", "labelOffset": 10, "rowPadding": 2, "titlePadding": 10}}}},
{"mark": {"type": "rule", "color": "#333", "strokeWidth": 1.2}, "encoding": {"xOffset": {"field": "Substrate", "type": "nominal", "scale": {"paddingInner": 0, "paddingOuter": 0}}, "y": {"field": "lo", "type": "quantitative"}, "y2": {"field": "hi"}}},
{"mark": {"type": "tick", "color": "#333", "thickness": 1.2, "size": 16}, "encoding": {"xOffset": {"field": "Substrate", "type": "nominal", "scale": {"paddingInner": 0, "paddingOuter": 0}}, "y": {"field": "lo", "type": "quantitative"}}},
{"mark": {"type": "tick", "color": "#333", "thickness": 1.2, "size": 16}, "encoding": {"xOffset": {"field": "Substrate", "type": "nominal", "scale": {"paddingInner": 0, "paddingOuter": 0}}, "y": {"field": "hi", "type": "quantitative"}}},
{"data": {"name": "stars"}, "transform": [{"filter": "datum.panel == 'NOSC' && datum.Soil == 'AM'"}], "mark": {"type": "text", "text": "*", "fontSize": 24, "fontWeight": "bold", "color": "#111", "dx": -2, "dy": 5, "baseline": "middle"}, "encoding": {"y": {"field": "y", "type": "quantitative"}}},
{"data": {"name": "stars"}, "transform": [{"filter": "datum.panel == 'NOSC' && datum.Soil == 'ECM'"}], "mark": {"type": "text", "text": "*", "fontSize": 24, "fontWeight": "bold", "color": "#111", "dx": -18, "dy": 5, "baseline": "middle"}, "encoding": {"y": {"field": "y", "type": "quantitative"}}}
]
}
],
"spacing": 0, "bounds": "flush"
}
],
"config": {
"font": "Liberation Sans",
"view": {"stroke": "#8c8c8c", "strokeWidth": 1},
"axis": {"grid": false, "domain": false, "tickColor": "#555", "tickSize": 3, "labelFontWeight": "bold", "labelColor": "#1a1a1a", "titleFontWeight": "bold", "titleColor": "#111"},
"title": {"fontWeight": "bold", "color": "#111"}
}
}
